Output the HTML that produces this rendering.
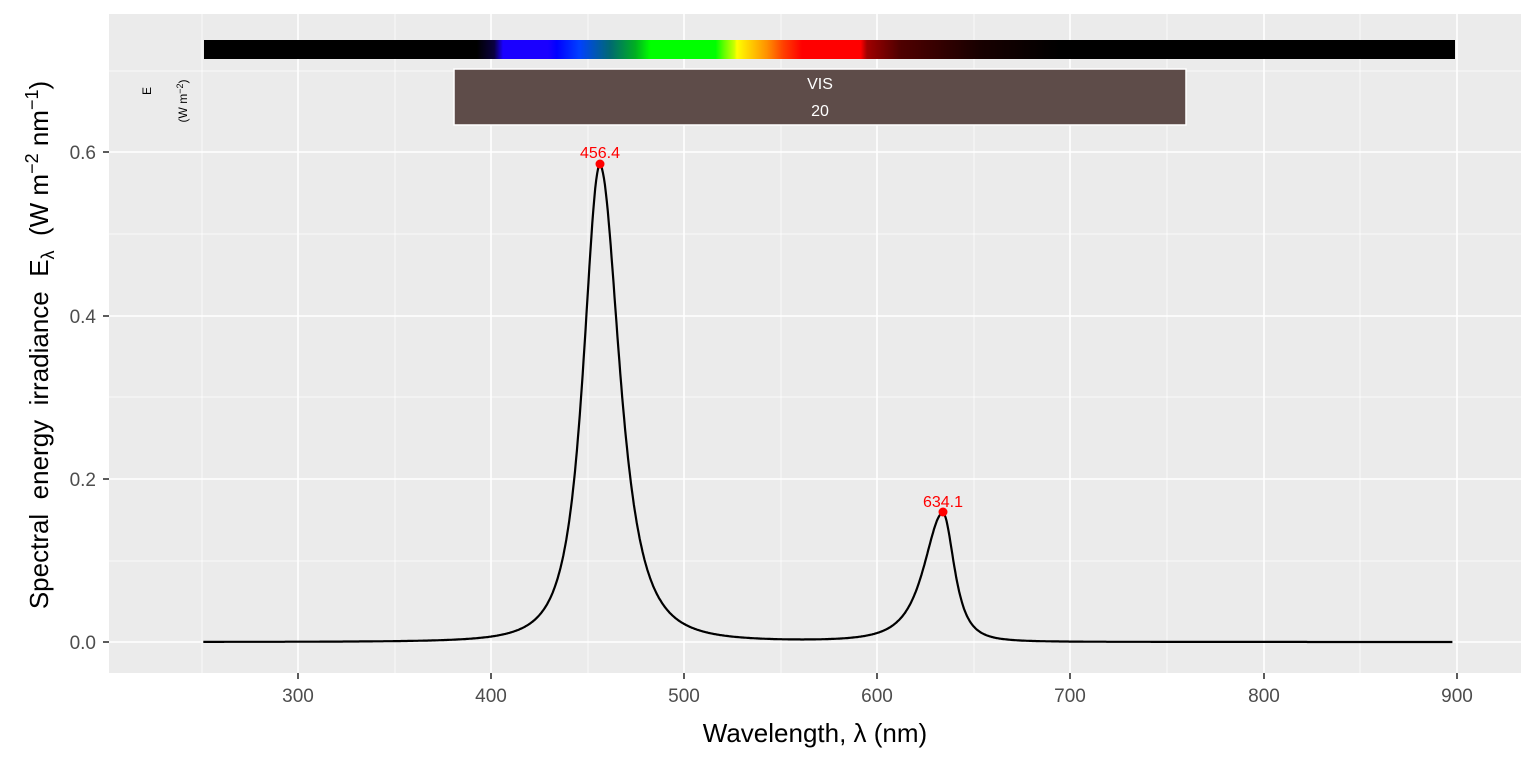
<!DOCTYPE html>
<html><head><meta charset="utf-8"><style>
html,body{margin:0;padding:0;background:#fff;}
svg{display:block;font-family:"Liberation Sans",Arial,sans-serif;}
text{white-space:pre;}
</style></head><body>
<svg id="s" width="1536" height="768" viewBox="0 0 1536 768" xmlns="http://www.w3.org/2000/svg">
<defs>
<linearGradient id="spec" gradientUnits="userSpaceOnUse" x1="204" x2="1455" y1="0" y2="0">
<stop offset="0" stop-color="#000"/>
<stop offset="0.218" stop-color="#000"/>
<stop offset="0.232" stop-color="#0a0040"/>
<stop offset="0.239" stop-color="#1a00ff"/>
<stop offset="0.275" stop-color="#1a00ff"/>
<stop offset="0.282" stop-color="#0000ff"/>
<stop offset="0.30" stop-color="#0040ff"/>
<stop offset="0.325" stop-color="#006a70"/>
<stop offset="0.345" stop-color="#00b020"/>
<stop offset="0.357" stop-color="#00ff00"/>
<stop offset="0.409" stop-color="#00ff00"/>
<stop offset="0.416" stop-color="#66ff00"/>
<stop offset="0.424" stop-color="#ccff00"/>
<stop offset="0.426" stop-color="#ffff00"/>
<stop offset="0.436" stop-color="#ffd000"/>
<stop offset="0.45" stop-color="#ff9000"/>
<stop offset="0.463" stop-color="#ff4000"/>
<stop offset="0.478" stop-color="#ff0000"/>
<stop offset="0.525" stop-color="#ff0000"/>
<stop offset="0.53" stop-color="#a00000"/>
<stop offset="0.556" stop-color="#500000"/>
<stop offset="0.62" stop-color="#180000"/>
<stop offset="0.684" stop-color="#000"/>
<stop offset="1" stop-color="#000"/>
</linearGradient>
</defs>
<rect x="109" y="14" width="1412" height="659" fill="#ebebeb"/>
<g stroke="#fff" stroke-width="0.7">
<line x1="109" x2="1521" y1="561" y2="561"/><line x1="109" x2="1521" y1="397" y2="397"/>
<line x1="109" x2="1521" y1="234" y2="234"/><line x1="109" x2="1521" y1="71" y2="71"/>
<line y1="14" y2="673" x1="202" x2="202"/><line y1="14" y2="673" x1="395" x2="395"/>
<line y1="14" y2="673" x1="588" x2="588"/><line y1="14" y2="673" x1="781" x2="781"/>
<line y1="14" y2="673" x1="974" x2="974"/><line y1="14" y2="673" x1="1167" x2="1167"/>
<line y1="14" y2="673" x1="1360" x2="1360"/>
</g>
<g stroke="#fff" stroke-width="1.6">
<line x1="109" x2="1521" y1="642" y2="642"/><line x1="109" x2="1521" y1="479" y2="479"/>
<line x1="109" x2="1521" y1="316" y2="316"/><line x1="109" x2="1521" y1="152" y2="152"/>
<line y1="14" y2="673" x1="298" x2="298"/><line y1="14" y2="673" x1="491" x2="491"/>
<line y1="14" y2="673" x1="684" x2="684"/><line y1="14" y2="673" x1="877" x2="877"/>
<line y1="14" y2="673" x1="1070" x2="1070"/><line y1="14" y2="673" x1="1264" x2="1264"/>
<line y1="14" y2="673" x1="1457" x2="1457"/>
</g>
<rect x="204" y="40" width="1251" height="19" fill="url(#spec)"/>
<rect x="454" y="69" width="732" height="56" fill="#5e4c49" stroke="#fff" stroke-width="1.5"/>
<text x="820" y="89" fill="#fff" font-size="16" text-anchor="middle">VIS</text>
<text x="820" y="116" fill="#fff" font-size="16" text-anchor="middle">20</text>
<text transform="translate(151,91) rotate(-90)" font-size="12" text-anchor="middle" fill="#000">E</text>
<text transform="translate(187,101) rotate(-90)" font-size="12" text-anchor="middle" fill="#000">(W m<tspan font-size="9" dy="-4">−2</tspan><tspan dy="4">)</tspan></text>
<path id="curve" fill="none" stroke="#000" stroke-width="2.2"/>
<circle cx="600" cy="164" r="4.5" fill="red"/>
<circle cx="943" cy="512" r="4.5" fill="red"/>
<text x="600" y="158" fill="red" font-size="16" text-anchor="middle">456.4</text>
<text x="943" y="507" fill="red" font-size="16" text-anchor="middle">634.1</text>
<g stroke="#333" stroke-width="1.6">
<line x1="103" x2="109" y1="642" y2="642"/><line x1="103" x2="109" y1="479" y2="479"/>
<line x1="103" x2="109" y1="316" y2="316"/><line x1="103" x2="109" y1="152" y2="152"/>
<line y1="673" y2="679" x1="298" x2="298"/><line y1="673" y2="679" x1="491" x2="491"/>
<line y1="673" y2="679" x1="684" x2="684"/><line y1="673" y2="679" x1="877" x2="877"/>
<line y1="673" y2="679" x1="1070" x2="1070"/><line y1="673" y2="679" x1="1264" x2="1264"/>
<line y1="673" y2="679" x1="1457" x2="1457"/>
</g>
<g fill="#4d4d4d" font-size="19" text-anchor="end">
<text x="96" y="649">0.0</text><text x="96" y="486">0.2</text>
<text x="96" y="323">0.4</text><text x="96" y="159">0.6</text>
</g>
<g fill="#4d4d4d" font-size="19" text-anchor="middle">
<text x="298" y="702">300</text><text x="491" y="702">400</text><text x="684" y="702">500</text>
<text x="877" y="702">600</text><text x="1070" y="702">700</text><text x="1264" y="702">800</text>
<text x="1457" y="702">900</text>
</g>
<text x="815" y="742" font-size="26" text-anchor="middle" fill="#000">Wavelength, λ (nm)</text>
<text transform="translate(48,345) rotate(-90)" font-size="26" text-anchor="middle" fill="#000">Spectral  energy  irradiance  E<tspan font-size="18" dy="6">λ</tspan><tspan dy="-6">  (W m</tspan><tspan font-size="18" dy="-10">−2</tspan><tspan dy="10"> nm</tspan><tspan font-size="18" dy="-10">−1</tspan><tspan dy="10">)</tspan></text>
</svg>
<script>
function pk(x,c,a,hl,hr){var h=x<c?hl:hr;var u=(x-c)/h;return a/Math.pow(1+u*u,1.5);}
var d="";
for(var nm=251;nm<=898;nm+=0.5){
 var v=pk(nm,456.4,0.585,13,15.5)+pk(nm,634.1,0.158,15,9);
 var x=201.4+(nm-250)*1.9305, y=642-v*815;
 d+=(d?"L":"M")+x.toFixed(1)+","+y.toFixed(1);
}
document.getElementById("curve").setAttribute("d",d);
</script>
</body></html>
